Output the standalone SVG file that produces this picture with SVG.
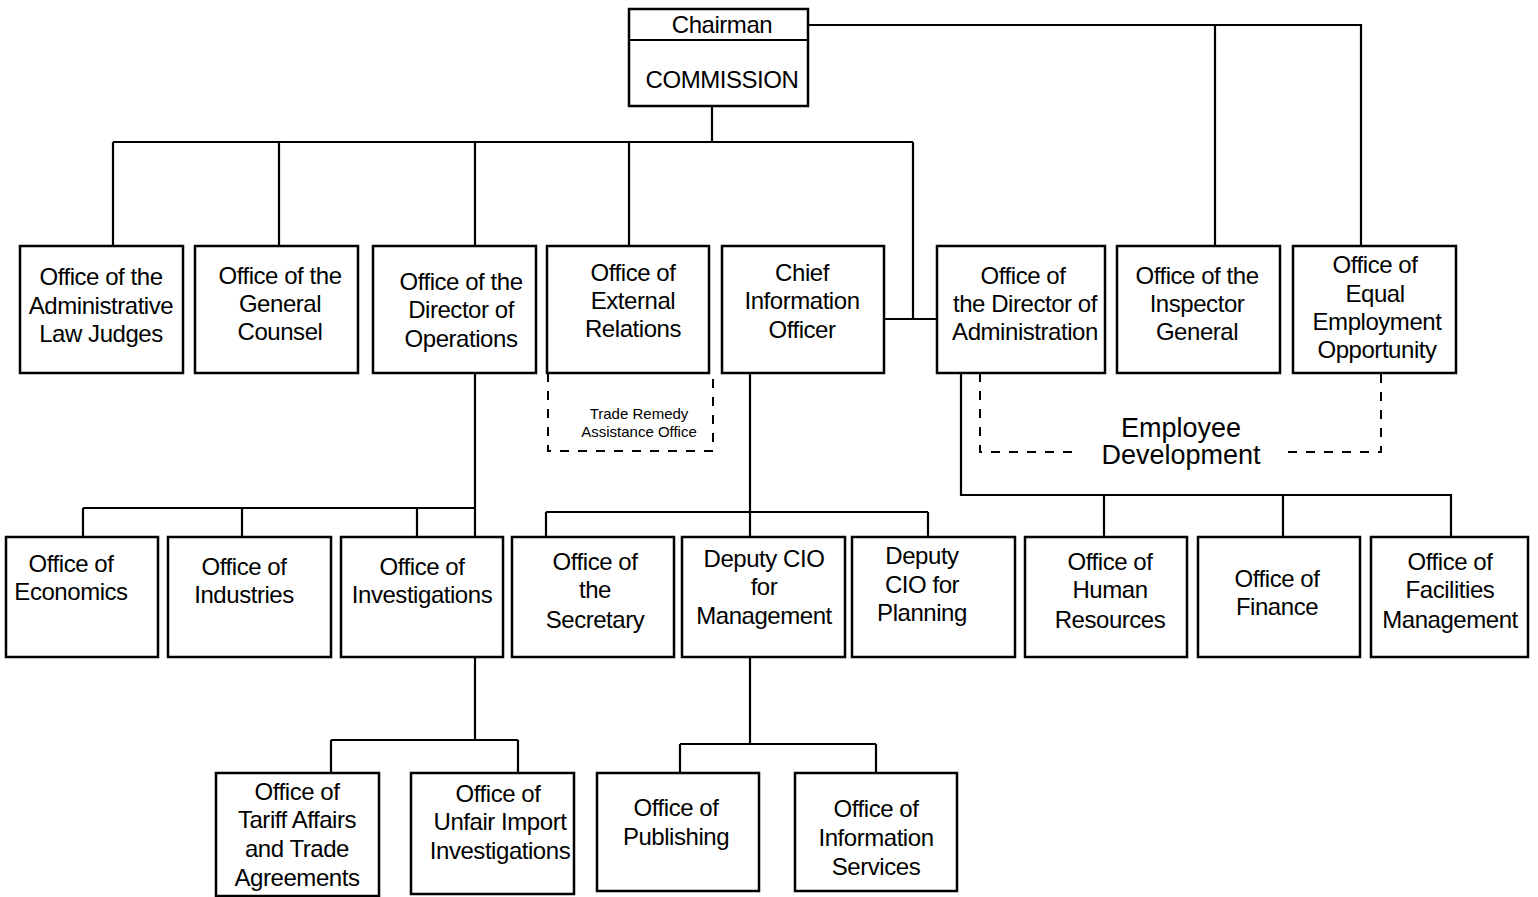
<svg xmlns="http://www.w3.org/2000/svg" width="1538" height="897" viewBox="0 0 1538 897">
<style>
.box{fill:#fff;stroke:#000;stroke-width:2.5}
.ln{fill:none;stroke:#000;stroke-width:2.2}
.dash{fill:none;stroke:#000;stroke-width:2;stroke-dasharray:9,9}
text{font-family:"Liberation Sans",Arial,sans-serif;font-size:24px;text-anchor:middle;fill:#000;letter-spacing:-0.45px}
.sm{font-size:15px;letter-spacing:0}
.ed{font-size:27px;letter-spacing:0}
</style>
<rect width="1538" height="897" fill="#fff"/>
<g id="connectors">
<path class="ln" d="M712 106V142M113 142H913M113 142V246M279 142V246M475 142V246M629 142V246M913 142V319M885 319H937"/>
<path class="ln" d="M808 25H1361V246M1215 25V246"/>
<path class="ln" d="M475 373V537M83 508H475M83 508V537M242 508V537M417 508V537"/>
<path class="ln" d="M750 373V537M546 512H928M546 512V537M928 512V537"/>
<path class="ln" d="M961 373V495H1451V537M1104 495V537M1283 495V537"/>
<path class="ln" d="M475 657V740M331 740H518M331 740V773M518 740V773"/>
<path class="ln" d="M750 657V744M680 744H876M680 744V773M876 744V773"/>
<path class="dash" d="M548 373V451H713V373"/>
<path class="dash" d="M980 373V452H1078M1288 452H1381V373"/>
</g>
<g id="commission"><rect class="box" x="629" y="9" width="179" height="97"/><line class="ln" x1="629" y1="40" x2="808" y2="40"/><text x="722" y="33">Chairman</text><text x="722" y="88">COMMISSION</text></g>
<g id="alj"><rect class="box" x="20" y="246" width="163" height="127"/><text x="101" y="285">Office of the</text><text x="101" y="314">Administrative</text><text x="101" y="342">Law Judges</text></g>
<g id="gc"><rect class="box" x="195" y="246" width="163" height="127"/><text x="280" y="284">Office of the</text><text x="280" y="312">General</text><text x="280" y="340">Counsel</text></g>
<g id="ops"><rect class="box" x="373" y="246" width="163" height="127"/><text x="461" y="290">Office of the</text><text x="461" y="318">Director of</text><text x="461" y="347">Operations</text></g>
<g id="er"><rect class="box" x="547" y="246" width="162" height="127"/><text x="633" y="281">Office of</text><text x="633" y="309">External</text><text x="633" y="337">Relations</text></g>
<g id="trao"><text class="sm" x="639" y="419">Trade Remedy</text><text class="sm" x="639" y="437">Assistance Office</text></g>
<g id="cio"><rect class="box" x="722" y="246" width="162" height="127"/><text x="802" y="281">Chief</text><text x="802" y="309">Information</text><text x="802" y="338">Officer</text></g>
<g id="da"><rect class="box" x="937" y="246" width="168" height="127"/><text x="1023" y="284">Office of</text><text x="1025" y="312">the Director of</text><text x="1025" y="340">Administration</text></g>
<g id="ig"><rect class="box" x="1117" y="246" width="163" height="127"/><text x="1197" y="284">Office of the</text><text x="1197" y="312">Inspector</text><text x="1197" y="340">General</text></g>
<g id="eeo"><rect class="box" x="1293" y="246" width="163" height="127"/><text x="1375" y="273">Office of</text><text x="1375" y="302">Equal</text><text x="1377" y="330">Employment</text><text x="1377" y="358">Opportunity</text></g>
<g id="ed"><text class="ed" x="1181" y="437">Employee</text><text class="ed" x="1181" y="464">Development</text></g>
<g id="econ"><rect class="box" x="6" y="537" width="152" height="120"/><text x="71" y="572">Office of</text><text x="71" y="600">Economics</text></g>
<g id="ind"><rect class="box" x="168" y="537" width="163" height="120"/><text x="244" y="575">Office of</text><text x="244" y="603">Industries</text></g>
<g id="inv"><rect class="box" x="341" y="537" width="162" height="120"/><text x="422" y="575">Office of</text><text x="422" y="603">Investigations</text></g>
<g id="sec"><rect class="box" x="512" y="537" width="162" height="120"/><text x="595" y="570">Office of</text><text x="595" y="598">the</text><text x="595" y="628">Secretary</text></g>
<g id="dcm"><rect class="box" x="682" y="537" width="163" height="120"/><text x="764" y="567">Deputy CIO</text><text x="764" y="595">for</text><text x="764" y="624">Management</text></g>
<g id="dcp"><rect class="box" x="852" y="537" width="163" height="120"/><text x="922" y="564">Deputy</text><text x="922" y="593">CIO for</text><text x="922" y="621">Planning</text></g>
<g id="hr"><rect class="box" x="1025" y="537" width="162" height="120"/><text x="1110" y="570">Office of</text><text x="1110" y="598">Human</text><text x="1110" y="628">Resources</text></g>
<g id="fin"><rect class="box" x="1198" y="537" width="162" height="120"/><text x="1277" y="587">Office of</text><text x="1277" y="615">Finance</text></g>
<g id="fac"><rect class="box" x="1371" y="537" width="157" height="120"/><text x="1450" y="570">Office of</text><text x="1450" y="598">Facilities</text><text x="1450" y="628">Management</text></g>
<g id="tata"><rect class="box" x="216" y="773" width="163" height="123"/><text x="297" y="800">Office of</text><text x="297" y="828">Tariff Affairs</text><text x="297" y="857">and Trade</text><text x="297" y="886">Agreements</text></g>
<g id="uii"><rect class="box" x="411" y="773" width="163" height="121"/><text x="498" y="802">Office of</text><text x="500" y="830">Unfair Import</text><text x="500" y="859">Investigations</text></g>
<g id="pub"><rect class="box" x="597" y="773" width="162" height="118"/><text x="676" y="816">Office of</text><text x="676" y="845">Publishing</text></g>
<g id="ois"><rect class="box" x="795" y="773" width="162" height="118"/><text x="876" y="817">Office of</text><text x="876" y="846">Information</text><text x="876" y="875">Services</text></g>
</svg>
